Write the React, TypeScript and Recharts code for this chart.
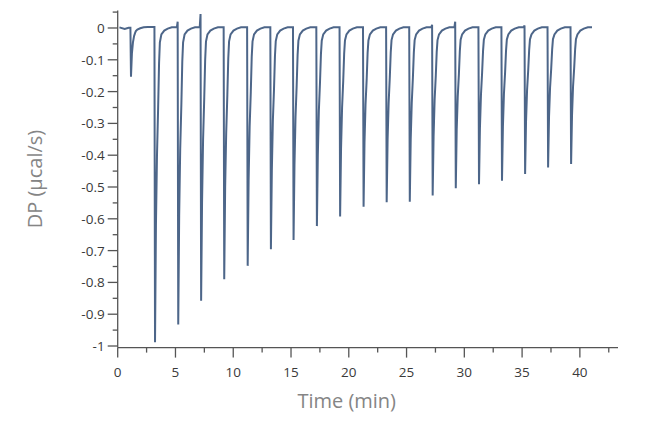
import React from 'react';
import { LineChart, Line, XAxis, YAxis, Label } from 'recharts';

// Axis ticks
const xMajorTicks = [0, 5, 10, 15, 20, 25, 30, 35, 40];
const xMinorTicks = [2.5, 7.5, 12.5, 17.5, 22.5, 27.5, 32.5, 37.5, 42.5];
const yMajorTicks = [0, -0.1, -0.2, -0.3, -0.4, -0.5, -0.6, -0.7, -0.8, -0.9, -1];
const yMinorTicks = [0.05, -0.05, -0.15, -0.25, -0.35, -0.45, -0.55, -0.65, -0.75, -0.85, -0.95];

// Thermogram: injection peak times (min)
const injectionTimes = [1.15, 3.23, 5.24, 7.22, 9.22, 11.25, 13.26, 15.22, 17.24, 19.25, 21.28, 23.28, 25.28, 27.26, 29.26, 31.27, 33.26, 35.26, 37.25, 39.24];
// time offsets (min) of the sampled points around each peak tip
const peakOffsets = [-0.12, -0.05, 0, 0.08, 0.17, 0.27, 0.35, 0.42, 0.55, 0.8, 1.1, 1.45];
// DP values (µcal/s) at those offsets, one row per injection
const peakValues = [
  [0.001, 0.001, -0.153, -0.08, -0.045, -0.025, -0.016, -0.01, -0.005, -0.001, 0.002, 0.003],
  [0.003, 0.003, -0.988, -0.62, -0.4, -0.25, -0.11, -0.045, -0.02, -0.008, -0.002, 0.002],
  [0.002, 0.02, -0.932, -0.59, -0.38, -0.24, -0.105, -0.045, -0.02, -0.008, -0.002, 0.002],
  [0.002, 0.044, -0.858, -0.55, -0.35, -0.22, -0.1, -0.043, -0.02, -0.008, -0.002, 0.002],
  [0.002, 0.002, -0.79, -0.5, -0.33, -0.21, -0.095, -0.042, -0.02, -0.008, -0.002, 0.002],
  [0.002, 0.002, -0.748, -0.48, -0.31, -0.2, -0.09, -0.042, -0.02, -0.008, -0.002, 0.002],
  [0.002, 0.002, -0.696, -0.45, -0.29, -0.19, -0.088, -0.041, -0.02, -0.008, -0.002, 0.002],
  [0.002, 0.002, -0.667, -0.43, -0.28, -0.18, -0.085, -0.04, -0.02, -0.008, -0.002, 0.002],
  [0.002, 0.002, -0.623, -0.4, -0.26, -0.17, -0.082, -0.04, -0.02, -0.008, -0.002, 0.002],
  [0.002, 0.002, -0.593, -0.38, -0.25, -0.165, -0.08, -0.039, -0.02, -0.008, -0.002, 0.002],
  [0.002, 0.002, -0.562, -0.36, -0.24, -0.16, -0.078, -0.039, -0.02, -0.008, -0.002, 0.002],
  [0.002, 0.002, -0.548, -0.35, -0.235, -0.155, -0.077, -0.038, -0.02, -0.008, -0.002, 0.002],
  [0.002, 0.002, -0.546, -0.35, -0.235, -0.155, -0.077, -0.038, -0.02, -0.008, -0.002, 0.002],
  [0.002, 0.01, -0.527, -0.34, -0.225, -0.15, -0.075, -0.038, -0.02, -0.008, -0.002, 0.002],
  [0.002, 0.02, -0.504, -0.32, -0.215, -0.145, -0.073, -0.037, -0.02, -0.008, -0.002, 0.002],
  [0.002, 0.002, -0.491, -0.315, -0.21, -0.14, -0.072, -0.037, -0.02, -0.008, -0.002, 0.002],
  [0.002, 0.002, -0.48, -0.31, -0.205, -0.138, -0.071, -0.036, -0.02, -0.008, -0.002, 0.002],
  [0.002, 0.008, -0.459, -0.295, -0.195, -0.132, -0.07, -0.036, -0.02, -0.008, -0.002, 0.002],
  [0.002, 0.002, -0.439, -0.28, -0.188, -0.127, -0.068, -0.035, -0.02, -0.008, -0.002, 0.002],
  [0.002, 0.002, -0.428, -0.275, -0.183, -0.124, -0.067, -0.035, -0.02, -0.008, -0.002, 0.002],
];
const leadInTimes = [0.15, 0.6, 0.95];
const leadInValues = [0.002, -0.003, 0.001];
const endTime = 41.05;
const endValue = 0.002;

const data: { t: number; v: number }[] = [];
leadInTimes.forEach((t, i) => data.push({ t, v: leadInValues[i] }));
injectionTimes.forEach((T, i) => {
  peakOffsets.forEach((o, j) => {
    data.push({ t: +(T + o).toFixed(3), v: peakValues[i][j] });
  });
});
data.push({ t: endTime, v: endValue });

const FONT = '"Open Sans", "Noto Sans", sans-serif';
const TICK_COLOR = '#3a3a3a';
const AXIS_COLOR = '#555555';
const TITLE_COLOR = '#858585';

const XTick = (props: any) => {
  const { x, y, payload } = props;
  const major = xMajorTicks.includes(payload.value);
  return (
    <g>
      <line x1={x} x2={x} y1={y} y2={y + (major ? 10 : 5)} stroke={AXIS_COLOR} strokeWidth={1.3} />
      {major && (
        <text x={x} y={y + 24} textAnchor="middle" dominantBaseline="central" fontSize={13.5} fontFamily={FONT} fill={TICK_COLOR}>
          {String(payload.value)}
        </text>
      )}
    </g>
  );
};

const YTick = (props: any) => {
  const { x, y, payload } = props;
  const major = yMajorTicks.includes(payload.value);
  return (
    <g>
      <line x1={x - (major ? 10 : 5)} x2={x} y1={y} y2={y} stroke={AXIS_COLOR} strokeWidth={1.3} />
      {major && (
        <text x={x - 13} y={y} textAnchor="end" dominantBaseline="central" fontSize={13.5} fontFamily={FONT} fill={TICK_COLOR}>
          {String(payload.value)}
        </text>
      )}
    </g>
  );
};

const xTicks = [...xMajorTicks, ...xMinorTicks].sort((a, b) => a - b);
const yTicks = [...yMajorTicks, ...yMinorTicks].sort((a, b) => a - b);

export default function App() {
  return (
    <div style={{ width: 640, height: 411 }}>
      <LineChart width={640} height={411} data={data} margin={{ top: 2.5, right: 30, bottom: 11.4, left: 0 }}>
        <XAxis
          type="number"
          dataKey="t"
          domain={[0, 43.3]}
          ticks={xTicks}
          interval={0}
          tick={<XTick />}
          tickLine={false}
          tickSize={0}
          tickMargin={0}
          height={60}
          axisLine={{ stroke: AXIS_COLOR, strokeWidth: 1.3 }}
        >
          <Label
            content={(p: any) => {
              const vb = p.viewBox || {};
              return (
                <text x={vb.x + 229} y={vb.y + 53} textAnchor="middle" dominantBaseline="central" fontSize={20} fontFamily={FONT} fill={TITLE_COLOR}>
                  Time (min)
                </text>
              );
            }}
          />
        </XAxis>
        <YAxis
          type="number"
          domain={[-1.005, 0.055]}
          ticks={yTicks}
          interval={0}
          tick={<YTick />}
          tickLine={false}
          tickSize={0}
          tickMargin={0}
          width={109.7}
          axisLine={{ stroke: AXIS_COLOR, strokeWidth: 1.3 }}
        >
          <Label
            content={(p: any) => {
              const vb = p.viewBox || {};
              const cx = 27;
              const cy = vb.y + vb.height / 2;
              return (
                <text x={cx} y={cy} transform={`rotate(-90 ${cx} ${cy})`} textAnchor="middle" dominantBaseline="central" fontSize={20} fontFamily={FONT} fill={TITLE_COLOR}>
                  DP (µcal/s)
                </text>
              );
            }}
          />
        </YAxis>
        <Line
          type="linear"
          dataKey="v"
          dot={false}
          stroke="#4d6689"
          strokeWidth={2}
          isAnimationActive={false}
        />
      </LineChart>
    </div>
  );
}
